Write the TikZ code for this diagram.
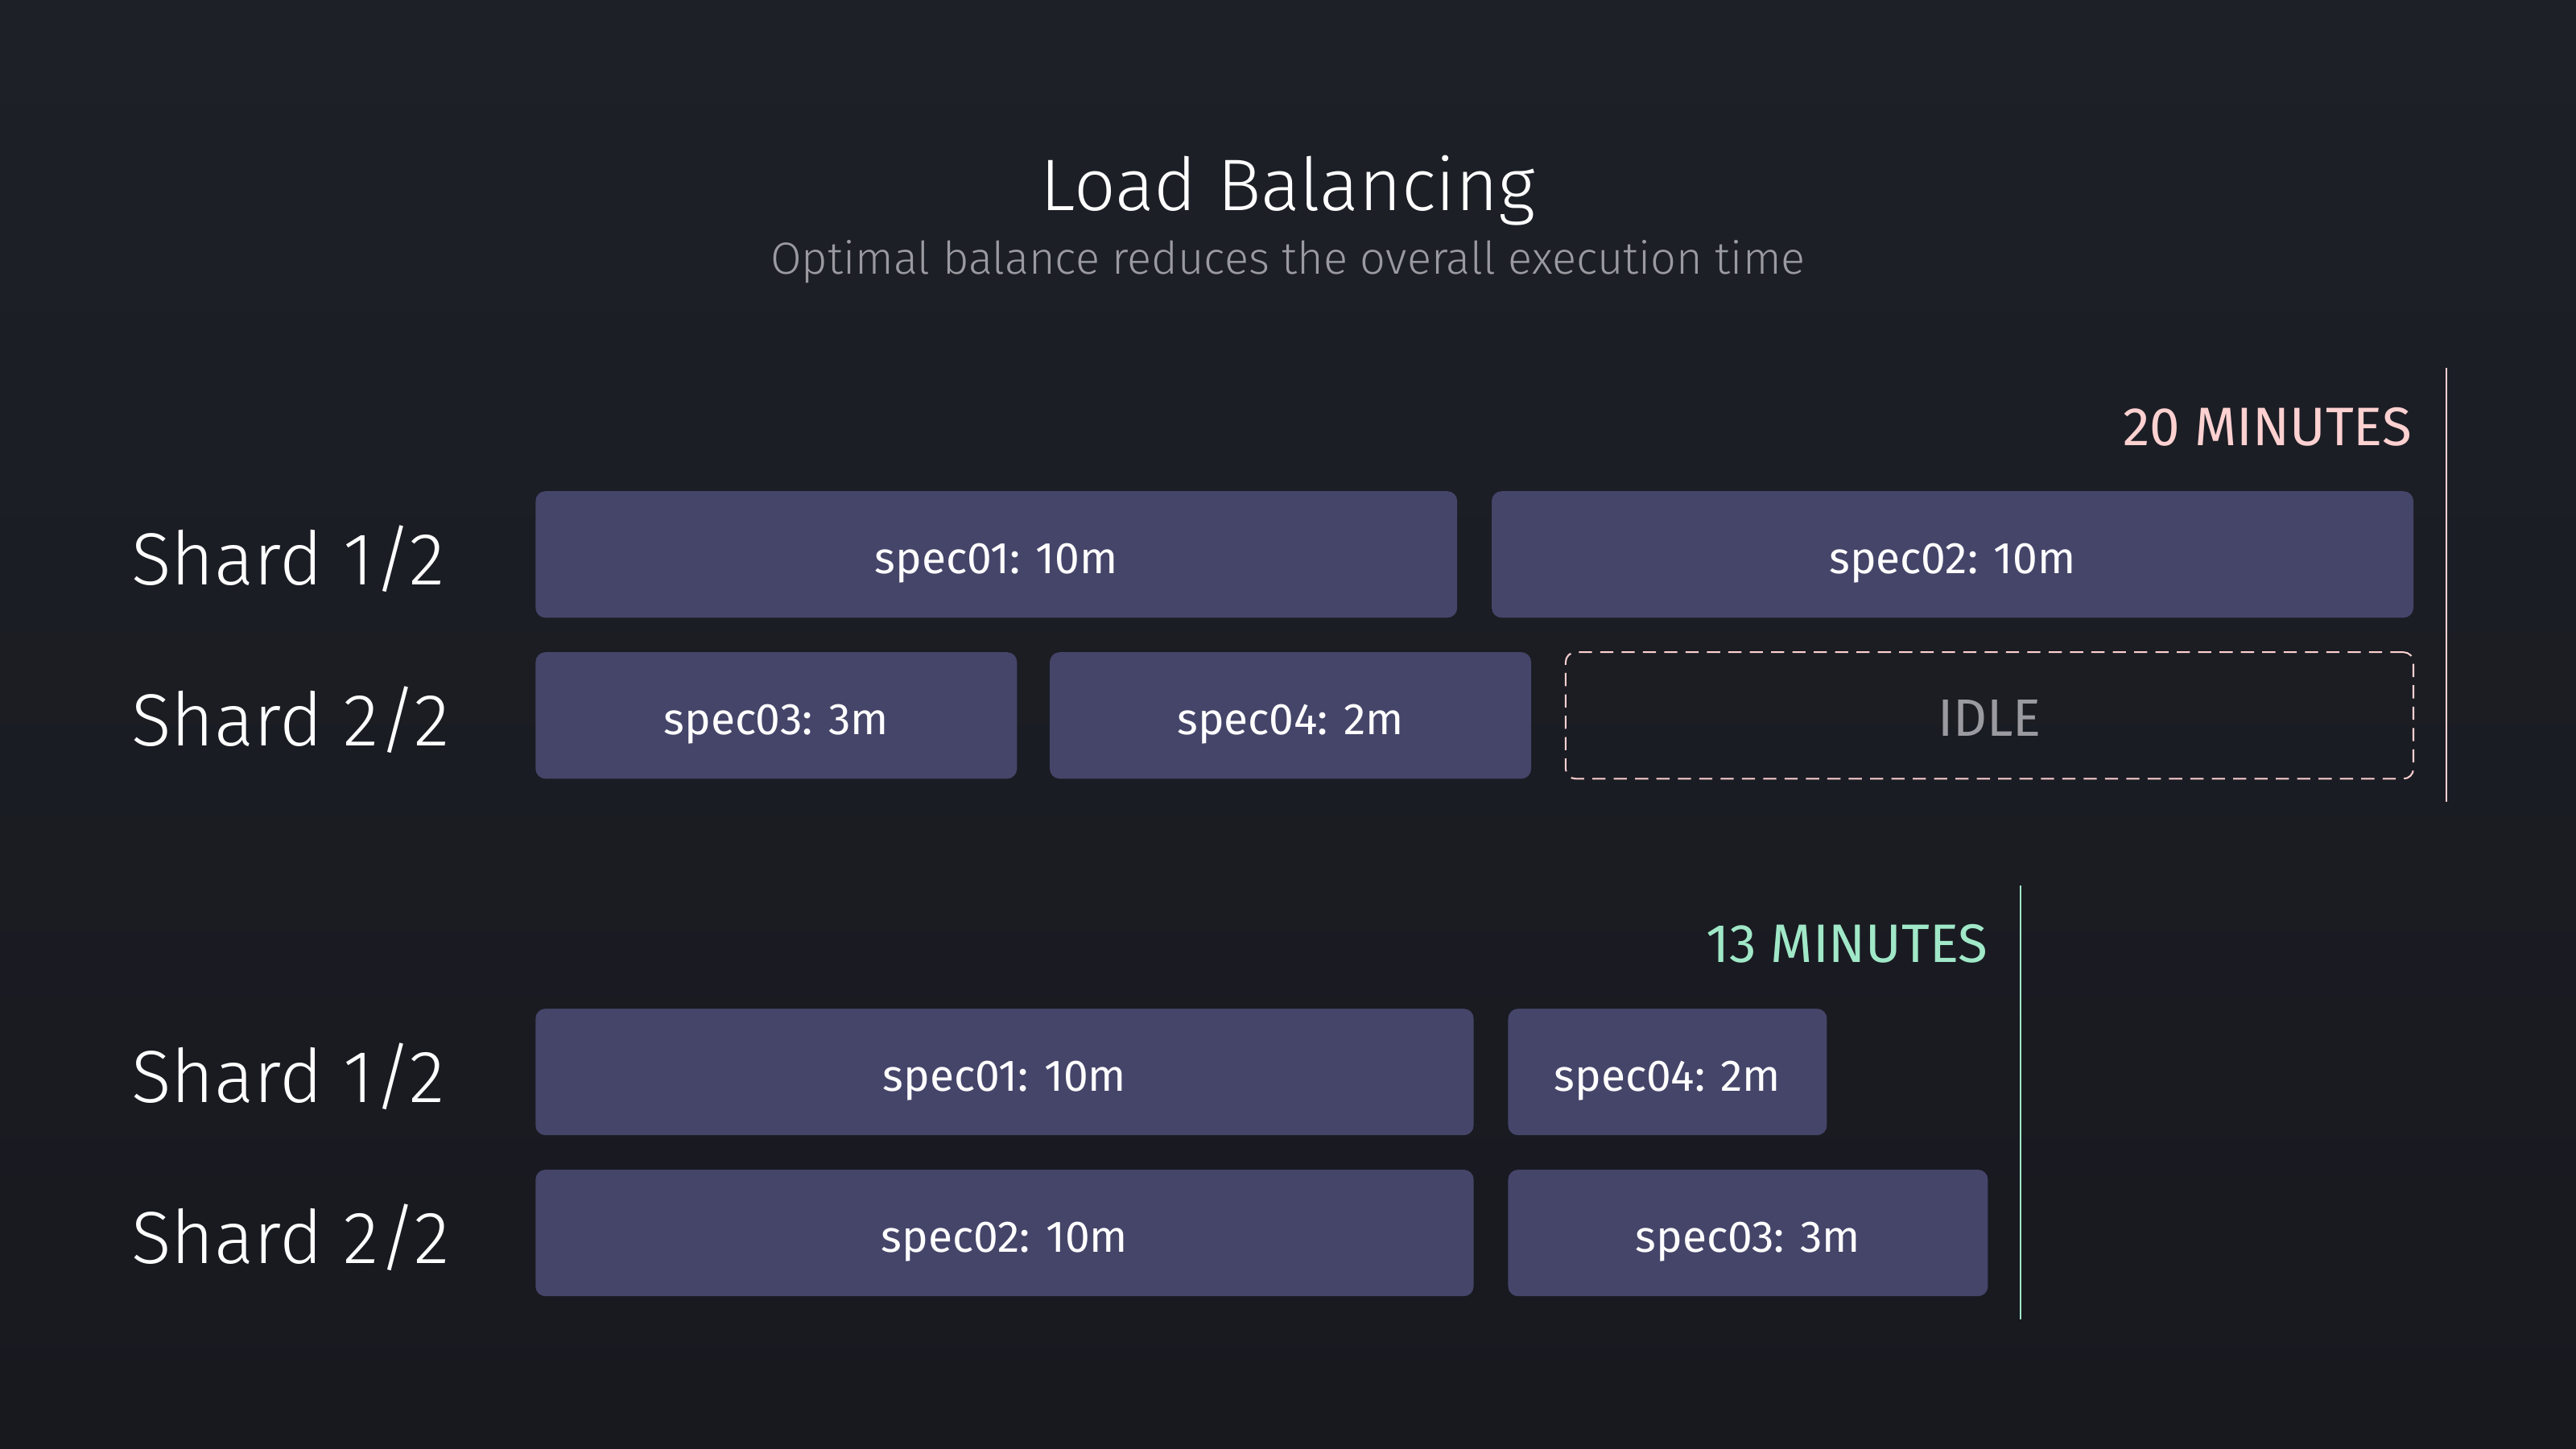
\documentclass[tikz,border=0pt]{standalone}
\usepackage{fontspec}
\setmainfont{Fira Sans}
\newfontfamily\lightfont{Fira Sans}[UprightFont=* Light]
\usetikzlibrary{positioning}
\definecolor{bgdark}{HTML}{1D2027}
\definecolor{bgdeep}{HTML}{18191F}
\definecolor{barfill}{HTML}{45456A}
\definecolor{pinkmark}{HTML}{FFD1D1}
\definecolor{greenmark}{HTML}{A0E8C8}
\definecolor{greytext}{HTML}{9A9AA0}

\begin{document}
\begin{tikzpicture}[x=1pt,y=-1pt,
  every node/.style={inner sep=0pt, outer sep=0pt},
  specbox/.style={fill=barfill, rounded corners=6pt, text=white,
    font=\fontsize{27}{32}\selectfont, text height=27pt, text depth=4pt,
    minimum height=77pt},
  idlebox/.style={draw=pinkmark, line width=1pt, dash pattern=on 8pt off 5pt,
    rounded corners=6pt, text=greytext, font=\fontsize{32}{38}\selectfont,
    text height=29pt, text depth=4pt, minimum height=77pt},
  shardlabel/.style={text=white, font=\lightfont\fontsize{45}{54}\selectfont, anchor=base west},
  totallabel/.style={font=\fontsize{33}{38}\selectfont, anchor=base east}
  ]
  % background
  \fill[bottom color=bgdeep, top color=bgdark] (0,0) rectangle (1568,882);
  \useasboundingbox (0,0) rectangle (1568,882);

  % title
  \node[text=white, font=\lightfont\fontsize{44.5}{54}\selectfont, anchor=base] (title) at (784,128) {Load Balancing};
  \node[text=greytext, font=\lightfont\fontsize{27.4}{32}\selectfont, anchor=base] (subtitle) at (784,167) {Optimal balance reduces the overall execution time};

  % unbalanced run
  \node[totallabel, text=pinkmark] (slow) at (1468,271) {20 MINUTES};
  \node[shardlabel] (shardA) at (80,356) {Shard 1/2};
  \node[shardlabel] (shardB) at (80,454) {Shard 2/2};
  \node[specbox, minimum width=561pt, anchor=north west] (a1) at (326,299) {spec01: 10m};
  \node[specbox, minimum width=561pt, right=21pt of a1] (a2) {spec02: 10m};
  \node[specbox, minimum width=293pt, anchor=north west] (b1) at (326,397) {spec03: 3m};
  \node[specbox, minimum width=293pt, right=20pt of b1] (b2) {spec04: 2m};
  \node[idlebox, minimum width=516pt, right=21pt of b2] (idle) {IDLE};
  \coordinate (slowtop) at (1489,224);
  \coordinate (slowbot) at (1489,488);
  \draw[pinkmark, line width=1pt] (slowtop) -- (slowbot);

  % balanced run
  \node[totallabel, text=greenmark] (fast) at (1210,586) {13 MINUTES};
  \node[shardlabel] (shardC) at (80,671) {Shard 1/2};
  \node[shardlabel] (shardD) at (80,769) {Shard 2/2};
  \node[specbox, minimum width=571pt, anchor=north west] (c1) at (326,614) {spec01: 10m};
  \node[specbox, minimum width=194pt, right=21pt of c1] (c2) {spec04: 2m};
  \node[specbox, minimum width=571pt, anchor=north west] (d1) at (326,712) {spec02: 10m};
  \node[specbox, minimum width=292pt, right=21pt of d1] (d2) {spec03: 3m};
  \coordinate (fasttop) at (1230,539);
  \coordinate (fastbot) at (1230,803);
  \draw[greenmark, line width=1pt] (fasttop) -- (fastbot);
\end{tikzpicture}
\end{document}
